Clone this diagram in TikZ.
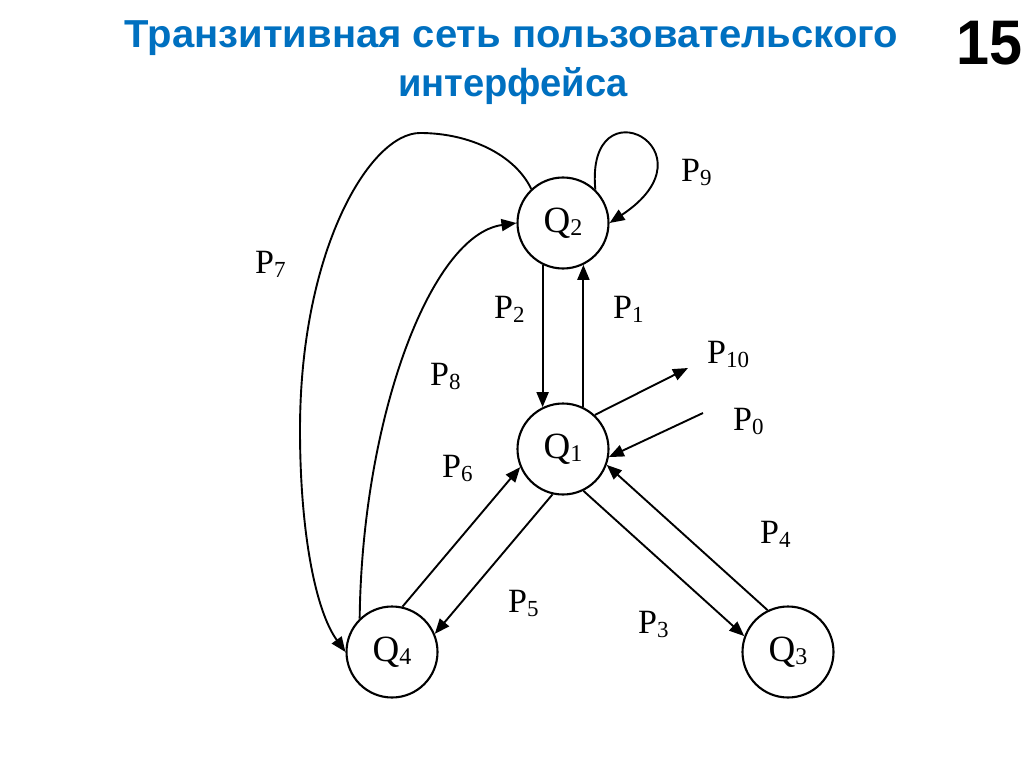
\documentclass[tikz,border=0pt]{standalone}
\usepackage{fontspec}
\setmainfont{Liberation Serif}
\newfontfamily\titlefont{Liberation Sans}
\usetikzlibrary{arrows.meta}
\definecolor{titleblue}{RGB}{0,112,192}
\newcommand\plab[1]{P\raisebox{-4pt}{\fontsize{23}{23}\selectfont #1}}
\newcommand\qlab[1]{Q\raisebox{-3pt}{\fontsize{24}{24}\selectfont #1}}
\begin{document}
\begin{tikzpicture}[x=1pt,y=-1pt,
  state/.style={circle,draw,line width=2.1pt,minimum size=91pt,inner sep=0pt,font=\fontsize{37}{37}\selectfont},
  lbl/.style={anchor=base west,inner sep=0pt,font=\fontsize{34}{34}\selectfont},
  arr/.style={line width=1.9pt,-{Triangle[length=15pt,width=12pt]}},
  ttl/.style={anchor=base,inner sep=0pt,text=titleblue}]
\fill[white] (0,0) rectangle (1024,767);
\useasboundingbox (0,0) rectangle (1024,767);
% title
\node[ttl] (t1) at (511.5,48) {\resizebox{773pt}{\height}{\titlefont\bfseries\fontsize{39}{40}\selectfont Транзитивная сеть пользовательского}};
\node[ttl] (t2) at (513,97) {\resizebox{230pt}{\height}{\titlefont\bfseries\fontsize{39}{40}\selectfont интерфейса}};
\node[anchor=base west,inner sep=0pt] (num) at (956,65) {\resizebox{66pt}{\height}{\titlefont\bfseries\fontsize{63}{63}\selectfont 15}};
% states
\node[state] (Q2) at (563,223) {\qlab{2}};
\node[state] (Q1) at (563,449) {\qlab{1}};
\node[state] (Q4) at (392,652) {\qlab{4}};
\node[state] (Q3) at (788,652) {\qlab{3}};
% free ends
\coordinate (p10end) at (688,368);
\coordinate (p0start) at (703,413);
% connectors
\draw[arr] (Q2.244) -- (Q1.116);
\draw[arr] (Q1.64) -- (Q2.296);
\draw[arr] (Q1.47) -- (p10end);
\draw[arr] (p0start) -- (Q1.-10);
\draw[arr] (Q1.-64) -- (Q3.160);
\draw[arr] (Q3.116) -- (Q1.-20);
\draw[arr] (Q1.257) -- (Q4.23);
\draw[arr] (Q4.77) -- (Q1.203);
\draw[arr] (Q2.46) .. controls (585,80) and (720,150) .. (Q2.east);
\draw[arr] (Q4.134) .. controls (362,420) and (430,235) .. (Q2.west);
\draw[arr] (Q2.133) .. controls (515,155) and (470,133) .. (420,133)
  .. controls (370,133) and (300,250) .. (300,430)
  .. controls (300,530) and (315,610) .. (Q4.west);
% labels
\node[lbl] (l9) at (681,182) {\plab{9}};
\node[lbl] (l7) at (255,273) {\plab{7}};
\node[lbl] (l2) at (494,318) {\plab{2}};
\node[lbl] (l1) at (613,318) {\plab{1}};
\node[lbl] (l10) at (707,363) {\plab{10}};
\node[lbl] (l8) at (430,385) {\plab{8}};
\node[lbl] (l0) at (733,430) {\plab{0}};
\node[lbl] (l6) at (442,477) {\plab{6}};
\node[lbl] (l4) at (760,543) {\plab{4}};
\node[lbl] (l5) at (508,612) {\plab{5}};
\node[lbl] (l3) at (638,633) {\plab{3}};
\end{tikzpicture}
\end{document}
